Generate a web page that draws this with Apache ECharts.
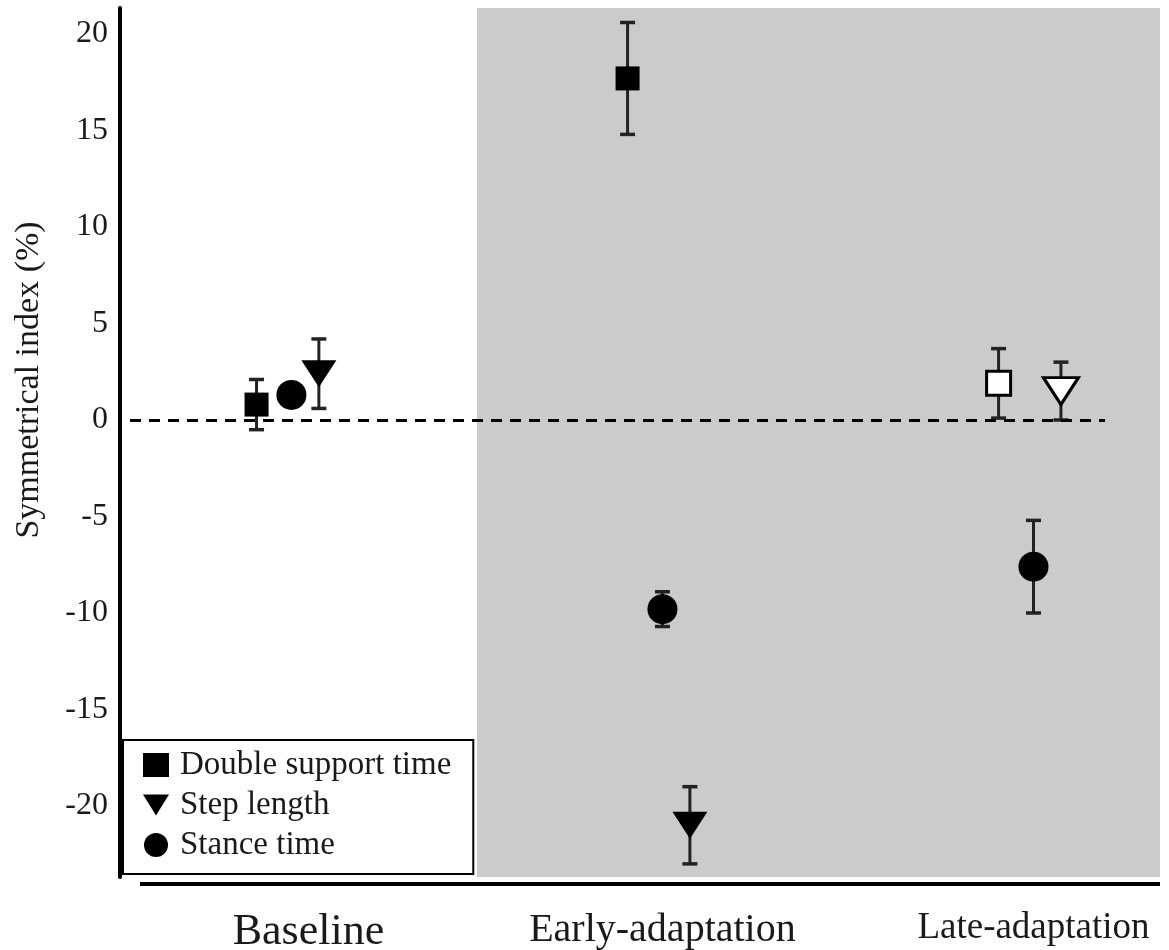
<!DOCTYPE html>
<html>
<head>
<meta charset="utf-8">
<script src="https://cdn.jsdelivr.net/npm/echarts@6/dist/echarts.min.js"></script>
<style>
  html, body { margin: 0; padding: 0; background: #ffffff; }
  #chart { width: 1169px; height: 950px; }
</style>
</head>
<body>
<div id="chart"></div>
<script>
// Gait symmetry per phase: mean and SD of the symmetrical index (%)
const categories = ['Baseline', 'Early-adaptation', 'Late-adaptation'];
const doubleSupportMean = [0.8, 17.7, 1.9];
const doubleSupportSD   = [1.3, 2.9, 1.8];
const stepLengthMean    = [2.4, -21.0, 1.5];
const stepLengthSD      = [1.8, 2.0, 1.5];
const stanceTimeMean    = [1.3, -9.8, -7.6];
const stanceTimeSD      = [0.5, 0.9, 2.4];
const yTicks = [-20, -15, -10, -5, 0, 5, 10, 15, 20];

const FONT = '"Liberation Serif", "Times New Roman", serif';
const INK = '#1a1a1a';
const TRI_DOWN = 'path://M0,0 L20,0 L10,16 Z';

// x layout: one unit per phase, markers spread slightly within each phase
const X_MIN = -0.462, X_MAX = 2.341;
const Y_MIN = -23.68, Y_MAX = 21.35;

const measures = [
  { name: 'Double support time', mean: doubleSupportMean, sd: doubleSupportSD,
    symbol: 'rect', size: 24, offset: -0.094, hollow: [2] },
  { name: 'Step length', mean: stepLengthMean, sd: stepLengthSD,
    symbol: TRI_DOWN, size: [35, 27], offset: 0.074, hollow: [2] },
  { name: 'Stance time', mean: stanceTimeMean, sd: stanceTimeSD,
    symbol: 'circle', size: 30, offset: 0, hollow: [] }
];

function errorBar(params, api) {
  const x = api.value(0);
  const lo = api.coord([x, api.value(1)]);
  const hi = api.coord([x, api.value(2)]);
  const cap = 7.5;
  const capStyle = { stroke: '#222', lineWidth: 3.5 };
  return {
    type: 'group',
    children: [
      { type: 'line', shape: { x1: lo[0], y1: lo[1], x2: hi[0], y2: hi[1] }, style: { stroke: '#222', lineWidth: 3 } },
      { type: 'line', shape: { x1: lo[0] - cap, y1: lo[1], x2: lo[0] + cap, y2: lo[1] }, style: capStyle },
      { type: 'line', shape: { x1: hi[0] - cap, y1: hi[1], x2: hi[0] + cap, y2: hi[1] }, style: capStyle }
    ]
  };
}

const series = [];

// Shaded adaptation period and the zero reference line
series.push({
  name: 'frame',
  type: 'scatter',
  data: [],
  z: 1,
  silent: true,
  markArea: {
    silent: true,
    itemStyle: { color: '#cbcbcb' },
    data: [[{ xAxis: 0.5 }, { xAxis: X_MAX }]]
  },
  markLine: {
    silent: true,
    symbol: 'none',
    label: { show: false },
    lineStyle: { color: '#000', width: 3, type: [11, 8] },
    data: [[{ coord: [-0.435, 0] }, { coord: [2.193, 0] }]]
  }
});

measures.forEach(m => {
  series.push({
    name: m.name + ' SD',
    type: 'custom',
    z: 3,
    silent: true,
    renderItem: errorBar,
    encode: { x: 0, y: [1, 2] },
    data: m.mean.map((v, i) => [i + m.offset, v - m.sd[i], v + m.sd[i]])
  });
  series.push({
    name: m.name,
    type: 'scatter',
    z: 4,
    symbol: m.symbol,
    symbolSize: m.size,
    itemStyle: { color: '#000', opacity: 1 },
    data: m.mean.map((v, i) => {
      const d = { value: [i + m.offset, v] };
      if (m.hollow.includes(i)) {
        d.itemStyle = { color: '#ffffff', borderColor: '#000', borderWidth: 3 };
      }
      return d;
    })
  });
});

const chart = echarts.init(document.getElementById('chart'), null, { renderer: 'canvas' });
chart.setOption({
  animation: false,
  backgroundColor: '#ffffff',
  grid: { left: 120, right: 9, top: 8, bottom: 73, outerBoundsMode: 'none', containLabel: false },
  xAxis: {
    type: 'value',
    min: X_MIN,
    max: X_MAX,
    axisLine: { show: false },
    axisTick: { show: false },
    splitLine: { show: false },
    axisLabel: {
      customValues: [0, 1, 2],
      margin: 33,
      color: INK,
      fontFamily: FONT,
      hideOverlap: false,
      formatter: v => {
        const i = Math.round(v);
        return ['{b|', '{e|', '{l|'][i] + categories[i] + '}';
      },
      rich: {
        b: { fontSize: 44, fontFamily: FONT, color: INK, padding: [0, 0, 0, 34] },
        e: { fontSize: 40, fontFamily: FONT, color: INK },
        l: { fontSize: 37, fontFamily: FONT, color: INK }
      }
    }
  },
  yAxis: {
    type: 'value',
    min: Y_MIN,
    max: Y_MAX,
    name: 'Symmetrical index (%)',
    nameLocation: 'middle',
    nameRotate: 90,
    nameGap: 74,
    nameTextStyle: { fontFamily: FONT, fontSize: 34, color: INK, padding: [0, 0, 0, 125] },
    axisLine: { show: true, onZero: false, lineStyle: { color: '#000', width: 4 } },
    axisTick: { show: false },
    splitLine: { show: false },
    axisLabel: {
      customValues: yTicks,
      margin: 12,
      fontFamily: FONT,
      fontSize: 32,
      color: INK
    }
  },
  legend: {
    orient: 'vertical',
    left: 123,
    top: 740,
    padding: [6, 22, 10, 20],
    itemGap: 2,
    itemWidth: 26,
    itemHeight: 24,
    backgroundColor: '#ffffff',
    borderColor: '#000',
    borderWidth: 2,
    selectedMode: false,
    textStyle: { fontFamily: FONT, fontSize: 33, color: INK, lineHeight: 38, padding: [0, 0, 0, 6] },
    data: [
      { name: 'Double support time', icon: 'rect', itemStyle: { color: '#000' } },
      { name: 'Step length', icon: TRI_DOWN, itemStyle: { color: '#000' } },
      { name: 'Stance time', icon: 'circle', itemStyle: { color: '#000' } }
    ]
  },
  graphic: [
    {
      type: 'line',
      z: 10,
      shape: { x1: 140, y1: 884, x2: 1160, y2: 884 },
      style: { stroke: '#000', lineWidth: 4 }
    }
  ],
  series: series
});
</script>
</body>
</html>
